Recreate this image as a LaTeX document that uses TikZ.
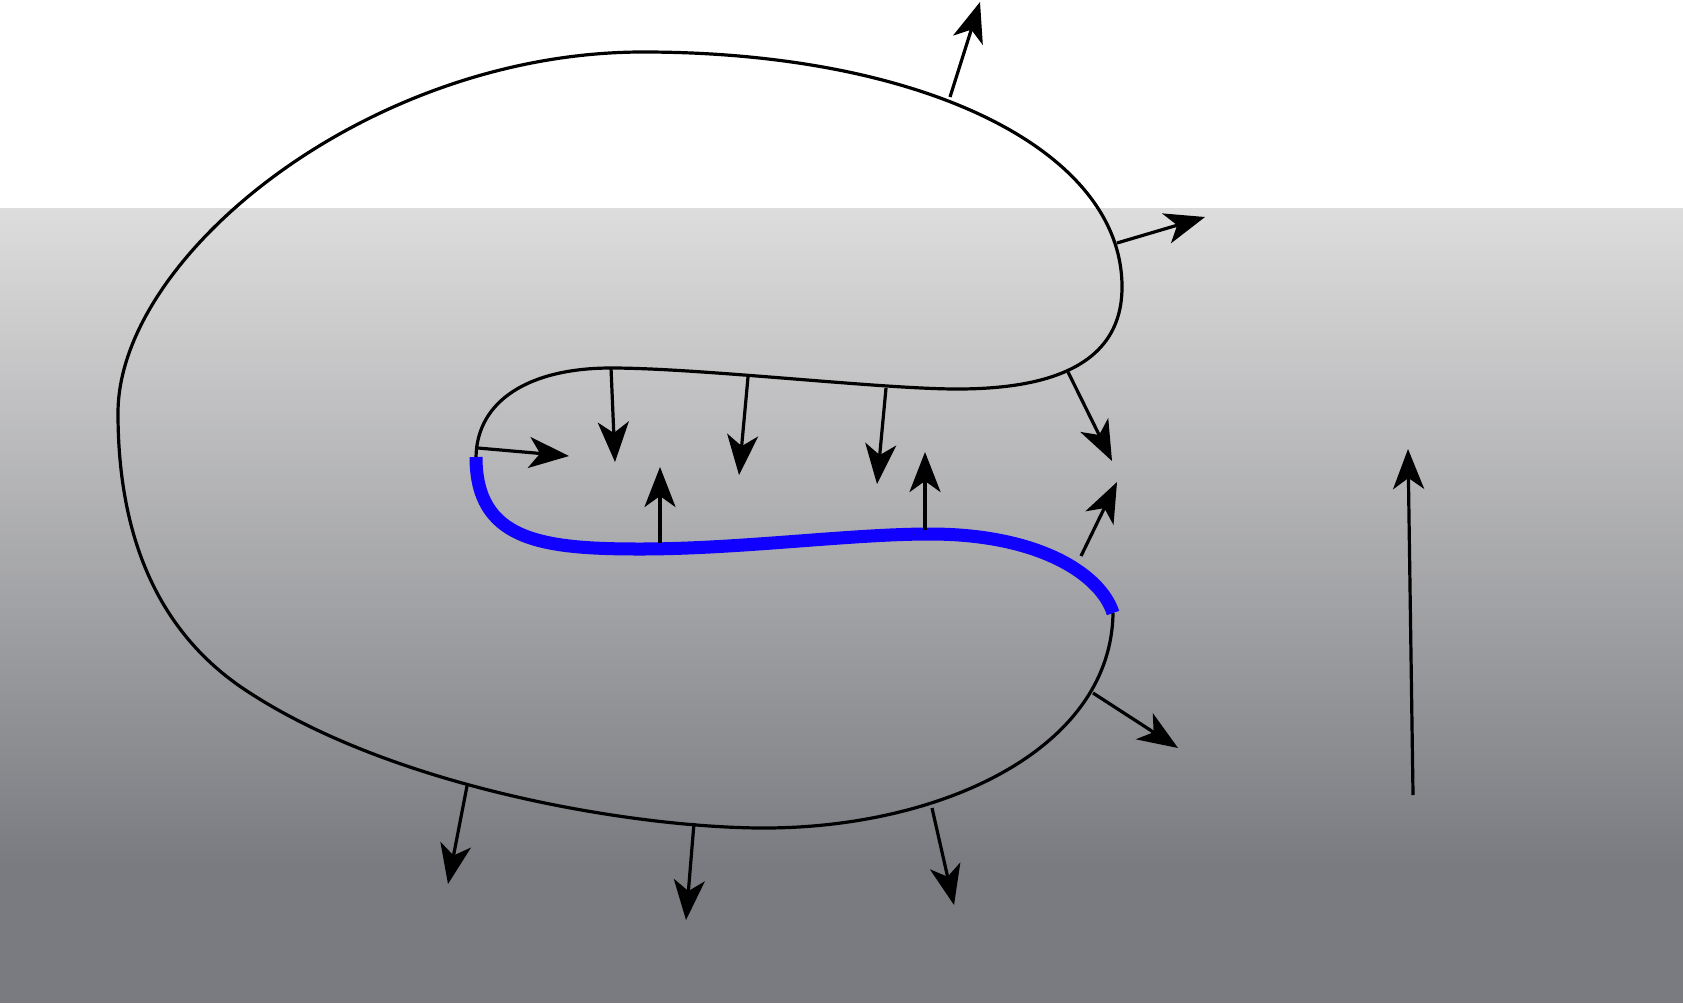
\documentclass[tikz,border=0pt]{standalone}
\definecolor{GrayTop}{RGB}{221,221,221}
\definecolor{GrayBot}{RGB}{122,123,128}
\definecolor{Rim}{RGB}{16,0,255}
\usepackage{tikz}
\usetikzlibrary{arrows.meta}

\begin{document}
\begin{tikzpicture}[x=0.01cm,y=-0.01cm,
  nvec/.style={line width=0.032cm,-{Stealth[length=0.40cm,width=0.31cm,inset=0.11cm]}}]
\useasboundingbox (0,0) rectangle (1683,1003);
%background
\fill[white] (0,0) rectangle (1683,208);
\shade[top color=GrayTop, bottom color=GrayBot] (0,208) rectangle (1683,866);
\fill[GrayBot] (0,865) rectangle (1683,1003);
%body
\draw[line width=0.032cm] (1113,613) .. controls (1111,750) and (940,828) .. (764,828)
  .. controls (640,828) and (400,790) .. (250,693)
  .. controls (162,637) and (118,543) .. (118,413)
  .. controls (118,255) and (370,52) .. (643,52)
  .. controls (923,52) and (1122,150) .. (1122,287)
  .. controls (1122,370) and (1040,389) .. (957,389)
  .. controls (880,389) and (700,368) .. (611,368)
  .. controls (530,368) and (477,400) .. (476,457);
%wetted part
\draw[Rim, line width=0.13cm] (476,457) .. controls (476,540) and (540,549) .. (640,549)
  .. controls (740,549) and (850,534) .. (930,534)
  .. controls (1040,534) and (1101,575) .. (1113,613);
%normals
\draw[nvec] (950,97) -- (980,2);
\draw[nvec] (1117,243) -- (1205,217);
\draw[nvec] (1068,372) -- (1112,461);
\draw[nvec] (886,388) -- (877,484);
\draw[nvec] (748,377) -- (739,475);
\draw[nvec] (611,368) -- (615,462);
\draw[nvec] (478,448) -- (569,456);
\draw[nvec] (660,543) -- (660,467);
\draw[nvec] (925,530) -- (925,452);
\draw[nvec] (1081,556) -- (1117,482);
\draw[nvec] (1093,693) -- (1178,748);
\draw[nvec] (932,808) -- (954,905);
\draw[nvec] (694,823) -- (686,920);
\draw[nvec] (467,786) -- (448,884);
%gravity
\draw[nvec] (1413,795) -- (1408,449);
\end{tikzpicture}
\end{document}
